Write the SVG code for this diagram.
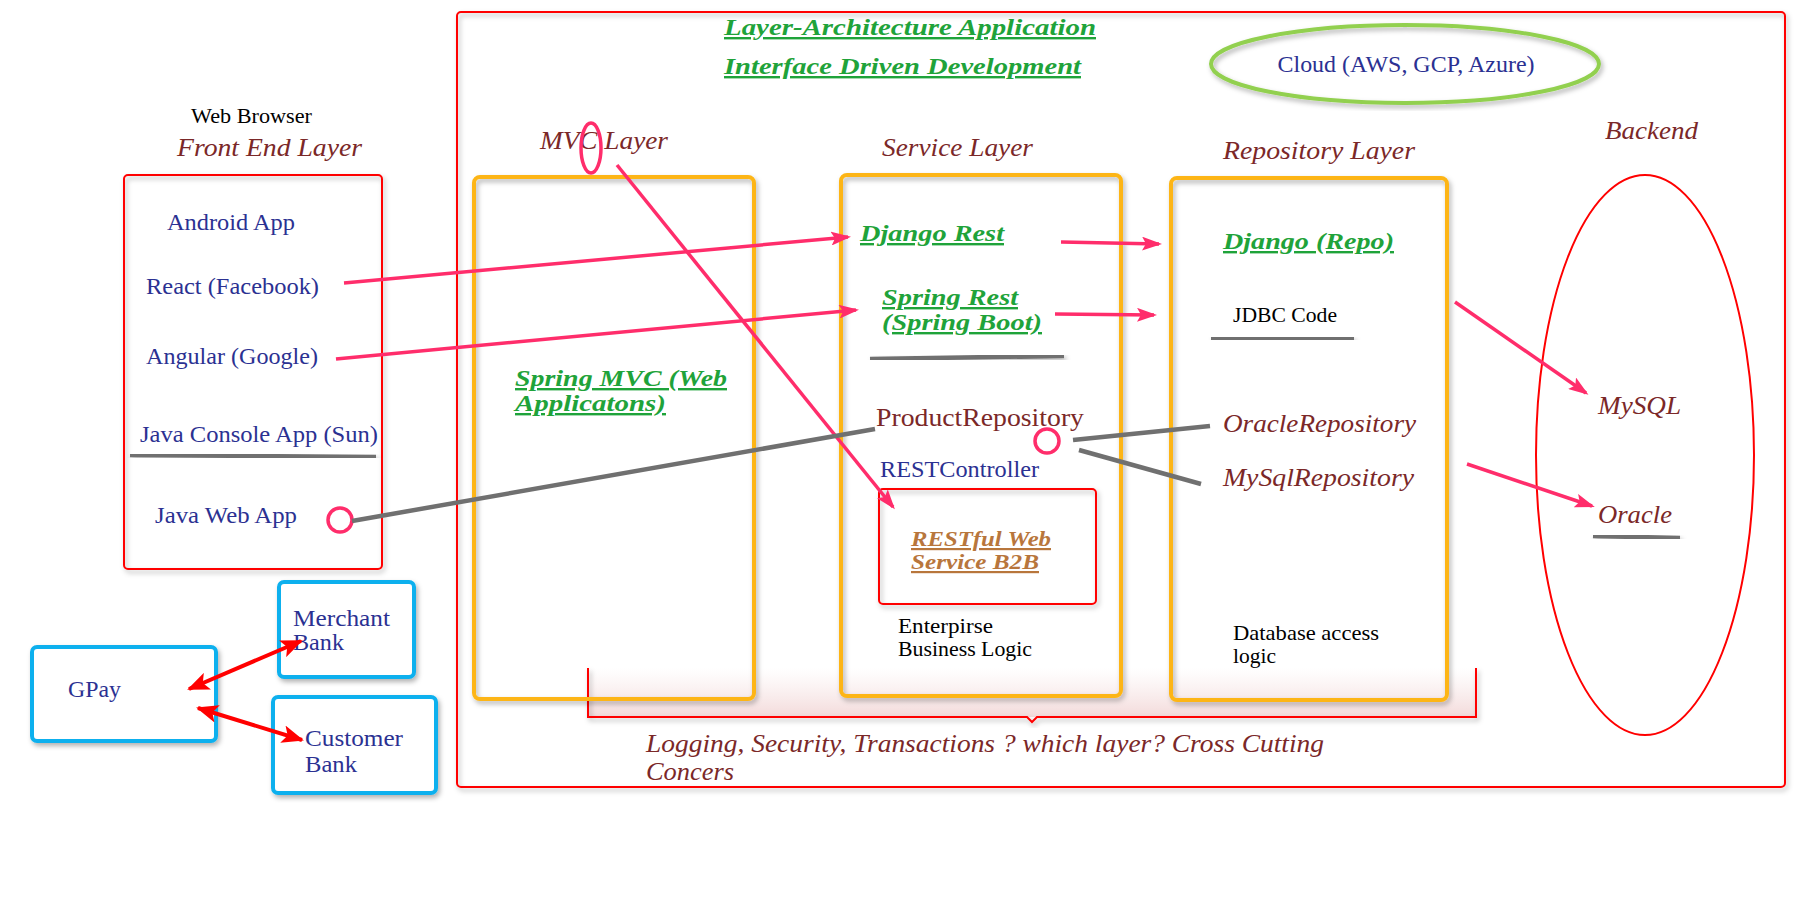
<svg xmlns="http://www.w3.org/2000/svg" width="1814" height="908" viewBox="0 0 1814 908">
<defs>
<filter id="sh" x="-10%" y="-10%" width="120%" height="120%">
<feDropShadow dx="2" dy="3" stdDeviation="2.5" flood-color="#000" flood-opacity="0.3"/>
</filter>
<linearGradient id="cc" x1="0" y1="0" x2="0" y2="1">
<stop offset="0" stop-color="#f6e4e4" stop-opacity="0"/>
<stop offset="1" stop-color="#f3dada" stop-opacity="1"/>
</linearGradient>
<marker id="pk" markerUnits="userSpaceOnUse" markerWidth="20" markerHeight="14" refX="17" refY="7" orient="auto">
<path d="M0,0 L20,7 L0,14 L4,7 z" fill="#ff2d6b"/>
</marker>
<marker id="rd" markerUnits="userSpaceOnUse" markerWidth="22" markerHeight="18" refX="20" refY="9" orient="auto-start-reverse">
<path d="M0,0 L22,9 L0,18 L5,9 z" fill="#ff0000"/>
</marker>
</defs>
<style>
text{font-family:"Liberation Serif","DejaVu Serif",serif;}
.nv{fill:#2b3192;font-size:24px;}
.hd{fill:#7b2828;font-size:25px;font-style:italic;}
.rg{fill:#7b2828;font-size:25px;}
.gr{fill:#1fa33a;font-size:24px;font-style:italic;font-weight:bold;text-decoration:underline;}
.bk{fill:#000;font-size:21px;font-family:"Liberation Serif",serif;}
.br{fill:#b8763c;font-size:22px;font-style:italic;font-weight:bold;text-decoration:underline;}
.redbox{fill:none;stroke:#ff0000;stroke-width:2;filter:url(#sh);}
.orbox{fill:none;stroke:#fdb515;stroke-width:4;filter:url(#sh);}
.blbox{fill:#fff;stroke:#0bb0ee;stroke-width:4;filter:url(#sh);}
.pl{stroke:#ff2d6b;stroke-width:3.5;fill:none;marker-end:url(#pk);}
.gl{stroke:#707070;stroke-width:4.5;fill:none;stroke-linecap:butt;}
.rl{stroke:#ff0000;stroke-width:4;fill:none;marker-start:url(#rd);marker-end:url(#rd);}
.pc{fill:none;stroke:#ff2d6b;stroke-width:3.5;}
</style>
<rect width="1814" height="908" fill="#fff"/>

<g id="application">
<rect x="457" y="12" width="1328" height="775" rx="4" class="redbox"/>
<text x="724" y="35" class="gr" font-size="25" textLength="372" lengthAdjust="spacingAndGlyphs">Layer-Architecture Application</text>
<text x="724" y="74" class="gr" font-size="25" textLength="357" lengthAdjust="spacingAndGlyphs">Interface Driven Development</text>
</g>

<g id="cross-cutting">
<path d="M588,668 L588,717 L1476,717 L1476,668 Z" fill="url(#cc)" stroke="none"/>
<path d="M588,668 L588,717 L1027,717 L1032,722 L1037,717 L1476,717 L1476,668" fill="none" stroke="#ff0000" stroke-width="2" filter="url(#sh)"/>
<text x="646" y="752" class="hd" textLength="678" lengthAdjust="spacingAndGlyphs">Logging, Security, Transactions ? which layer? Cross Cutting</text>
<text x="646" y="780" class="hd" textLength="88" lengthAdjust="spacingAndGlyphs">Concers</text>
</g>

<g id="cloud">
<ellipse cx="1405" cy="64" rx="194" ry="39" fill="none" stroke="#92d050" stroke-width="4" filter="url(#sh)"/>
<text x="1406" y="72" class="nv" text-anchor="middle" textLength="257" lengthAdjust="spacingAndGlyphs">Cloud (AWS, GCP, Azure)</text>
</g>

<g id="front-end">
<text x="191" y="123" class="bk" font-size="20" textLength="121" lengthAdjust="spacingAndGlyphs">Web Browser</text>
<text x="177" y="156" class="hd" textLength="185" lengthAdjust="spacingAndGlyphs">Front End Layer</text>
<rect x="124" y="175" width="258" height="394" rx="4" class="redbox"/>
<text x="167" y="230" class="nv" textLength="128" lengthAdjust="spacingAndGlyphs">Android App</text>
<text x="146" y="294" class="nv" textLength="173" lengthAdjust="spacingAndGlyphs">React (Facebook)</text>
<text x="146" y="364" class="nv" textLength="172" lengthAdjust="spacingAndGlyphs">Angular (Google)</text>
<text x="140" y="442" class="nv" textLength="238" lengthAdjust="spacingAndGlyphs">Java Console App (Sun)</text>
<line x1="130" y1="455" x2="376" y2="457" class="gl" filter="url(#sh)"/>
<text x="155" y="523" class="nv" textLength="142" lengthAdjust="spacingAndGlyphs">Java Web App</text>
<circle cx="340" cy="520" r="12" class="pc"/>
</g>

<g id="mvc-layer">
<text x="540" y="149" class="hd" textLength="128" lengthAdjust="spacingAndGlyphs">MVC Layer</text>
<ellipse cx="591" cy="148" rx="10" ry="25" class="pc" stroke-width="4"/>
<rect x="474" y="177" width="280" height="522" rx="6" class="orbox"/>
<text x="515" y="386" class="gr" textLength="212" lengthAdjust="spacingAndGlyphs">Spring MVC (Web</text>
<text x="515" y="411" class="gr" textLength="151" lengthAdjust="spacingAndGlyphs">Applicatons)</text>
</g>

<g id="service-layer">
<text x="882" y="156" class="hd" textLength="151" lengthAdjust="spacingAndGlyphs">Service Layer</text>
<rect x="841" y="175" width="280" height="521" rx="6" class="orbox"/>
<text x="860" y="241" class="gr" textLength="144" lengthAdjust="spacingAndGlyphs">Django Rest</text>
<text x="882" y="305" class="gr" textLength="136" lengthAdjust="spacingAndGlyphs">Spring Rest</text>
<text x="882" y="330" class="gr" textLength="160" lengthAdjust="spacingAndGlyphs">(Spring Boot)</text>
<line x1="870" y1="359" x2="1064" y2="356" class="gl" filter="url(#sh)"/>
<text x="876" y="426" class="rg" textLength="208" lengthAdjust="spacingAndGlyphs">ProductRepository</text>
<circle cx="1047" cy="441" r="12" class="pc"/>
<text x="880" y="477" class="nv" font-size="23" textLength="159" lengthAdjust="spacingAndGlyphs">RESTController</text>
<text x="898" y="633" class="bk" textLength="95" lengthAdjust="spacingAndGlyphs">Enterpirse</text>
<text x="898" y="656" class="bk" textLength="134" lengthAdjust="spacingAndGlyphs">Business Logic</text>
</g>

<g id="restful-service">
<rect x="879" y="489" width="217" height="115" rx="4" class="redbox"/>
<text x="911" y="546" class="br" textLength="140" lengthAdjust="spacingAndGlyphs">RESTful Web</text>
<text x="911" y="569" class="br" textLength="128" lengthAdjust="spacingAndGlyphs">Service B2B</text>
</g>

<g id="repository-layer">
<text x="1223" y="159" class="hd" textLength="192" lengthAdjust="spacingAndGlyphs">Repository Layer</text>
<rect x="1171" y="178" width="276" height="522" rx="6" class="orbox"/>
<text x="1223" y="249" class="gr" textLength="171" lengthAdjust="spacingAndGlyphs">Django (Repo)</text>
<text x="1233" y="322" class="bk" textLength="104" lengthAdjust="spacingAndGlyphs">JDBC Code</text>
<line x1="1211" y1="338" x2="1354" y2="339" class="gl" filter="url(#sh)"/>
<text x="1223" y="432" class="hd" textLength="193" lengthAdjust="spacingAndGlyphs">OracleRepository</text>
<text x="1223" y="486" class="hd" textLength="191" lengthAdjust="spacingAndGlyphs">MySqlRepository</text>
<text x="1233" y="640" class="bk" textLength="146" lengthAdjust="spacingAndGlyphs">Database access</text>
<text x="1233" y="663" class="bk" textLength="43" lengthAdjust="spacingAndGlyphs">logic</text>
</g>

<g id="backend">
<text x="1605" y="139" class="hd" textLength="93" lengthAdjust="spacingAndGlyphs">Backend</text>
<ellipse cx="1645" cy="455" rx="109" ry="280" fill="none" stroke="#ff0000" stroke-width="2"/>
<text x="1598" y="414" class="hd" textLength="83" lengthAdjust="spacingAndGlyphs">MySQL</text>
<line x1="1600" y1="440" x2="1680" y2="440" class="gl" filter="url(#sh)"/>
<text x="1598" y="523" class="hd" textLength="74" lengthAdjust="spacingAndGlyphs">Oracle</text>
<line x1="1593" y1="536" x2="1680" y2="538" class="gl" filter="url(#sh)"/>
</g>

<g id="gpay">
<rect x="32" y="647" width="184" height="94" rx="5" class="blbox"/>
<text x="68" y="697" class="nv" textLength="53" lengthAdjust="spacingAndGlyphs">GPay</text>
</g>
<g id="merchant-bank">
<rect x="279" y="582" width="135" height="95" rx="5" class="blbox"/>
<text x="293" y="626" class="nv" textLength="97" lengthAdjust="spacingAndGlyphs">Merchant</text>
<text x="293" y="650" class="nv" textLength="51" lengthAdjust="spacingAndGlyphs">Bank</text>
</g>
<g id="customer-bank">
<rect x="273" y="697" width="163" height="96" rx="5" class="blbox"/>
<text x="305" y="746" class="nv" textLength="98" lengthAdjust="spacingAndGlyphs">Customer</text>
<text x="305" y="772" class="nv" textLength="52" lengthAdjust="spacingAndGlyphs">Bank</text>
</g>

<g id="connectors">
<line x1="344" y1="283" x2="848" y2="237" class="pl"/>
<line x1="336" y1="359" x2="856" y2="310" class="pl"/>
<line x1="1061" y1="242" x2="1159" y2="244" class="pl"/>
<line x1="1055" y1="314" x2="1154" y2="315" class="pl"/>
<line x1="617" y1="165" x2="893" y2="507" class="pl"/>
<line x1="1455" y1="302" x2="1586" y2="393" class="pl"/>
<line x1="1467" y1="464" x2="1592" y2="506" class="pl"/>
<line x1="352" y1="521" x2="875" y2="429" class="gl"/>
<line x1="1073" y1="440" x2="1210" y2="426" class="gl"/>
<line x1="1079" y1="450" x2="1201" y2="484" class="gl"/>
<line x1="189" y1="689" x2="301" y2="641" class="rl"/>
<line x1="198" y1="708" x2="302" y2="740" class="rl"/>
</g>
</svg>
